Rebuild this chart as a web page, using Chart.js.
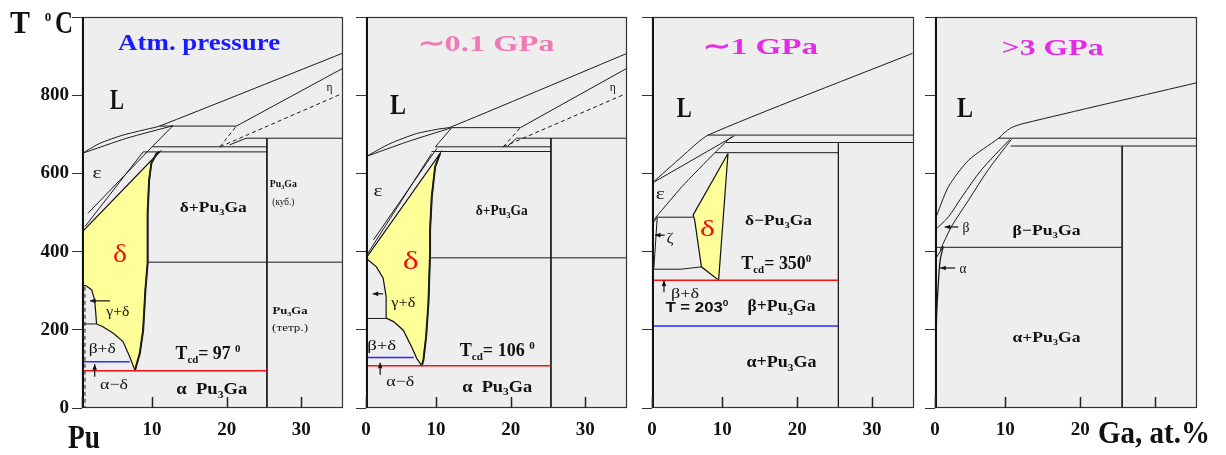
<!DOCTYPE html>
<html><head><meta charset="utf-8">
<script src="https://cdn.jsdelivr.net/npm/chart.js@4.4.0/dist/chart.umd.min.js"></script>
<style>
html,body{margin:0;padding:0;background:#fff;}
#wrap{position:relative;width:1226px;height:455px;overflow:hidden;background:#fff;}
canvas{position:absolute;left:0;top:0;}
</style></head><body><div id="wrap">
<canvas id="c1" width="1226" height="455"></canvas>
<canvas id="c2" width="1226" height="455"></canvas>
<canvas id="c3" width="1226" height="455"></canvas>
<canvas id="c4" width="1226" height="455"></canvas>
</div>
<script>
// ---------- axis values ----------
const xTickValues = [0, 10, 20, 30];          // Ga, at.%
const yTickValues = [0, 200, 400, 600, 800, 1000]; // T, °C
const compMin = 0.6, compMax = 35.6, tempMin = 0, tempMax = 1000;

// ---------- Panel 1: atmospheric pressure ----------
const p1Liquidus = [[0.6,651],[3.0,677],[6.1,698],[9.3,713],[11.0,721],[35.5,907]];
const p1Solidus = [[0.6,651],[6.6,690],[12.8,722]];
const p1Peritectic = [[11.0,721],[21.3,721]];
const p1EtaUpper = [[21.3,721],[35.5,868]];
const p1EtaDash = [[19.1,668],[35.1,801]];
const p1EtaDash2 = [[19.1,668],[21.3,721]];
const p1EtaSolid = [[20.4,673],[22.6,690],[35.6,690]];
const p1Pu3GaLine = [[25.4,690],[25.4,0]];
const p1Line668 = [[10.0,668],[25.4,668]];
const p1Line655 = [[8.8,655],[25.4,655]];
const p1EpsL = [[12.8,722],[10.0,668]];
const p1EpsA = [[1.0,464],[8.8,655]];
const p1EpsB = [[1.4,498],[10.0,668]];
const p1Delta = [[0.6,315],[0.6,450],[11.0,655],[10.6,651],[9.9,626],[9.6,583],[9.4,498],[9.4,370],[9.1,302],[8.8,199],[8.35,140],[7.7,96],[7.0,131],[6.1,170],[4.8,191],[3.4,208],[2.55,215],[2.45,242],[2.3,276],[1.9,302],[1.2,312],[0.6,315]];
const p1DeltaRight = [[11.0,655],[10.6,651],[9.9,626],[9.6,583],[9.4,498],[9.4,370],[9.1,302],[8.8,199],[8.35,140],[7.7,96]];
const p1Line373 = [[9.3,373],[35.6,373]];
const p1Line215 = [[0.6,215],[2.55,215]];
const p1Red = [[0.6,95],[25.4,95]];
const p1Blue = [[0.7,118],[7.0,118]];
const p1DashedV = [[1.0,310],[1.0,0]];

// ---------- Panel 2: ~0.1 GPa ----------
const p2Liquidus = [[0.6,643],[3.8,676],[7.4,702],[10.5,714],[11.9,718],[35.6,907]];
const p2Solidus = [[0.6,643],[6.0,680],[12.1,717]];
const p2Peritectic = [[12.1,717],[21.3,717]];
const p2EtaUpper = [[21.3,717],[35.6,869]];
const p2EtaDash = [[19.0,668],[35.1,801]];
const p2EtaDash2 = [[19.0,668],[21.3,717]];
const p2EtaSolid = [[19.5,668],[20.8,690],[35.6,690]];
const p2Pu3GaLine = [[25.4,690],[25.4,0]];
const p2Line668 = [[9.9,668],[25.4,668]];
const p2Line656 = [[9.4,656],[25.4,656]];
const p2EpsL = [[12.1,717],[9.9,668]];
const p2EpsA = [[0.7,391],[9.4,651]];
const p2EpsB = [[1.6,430],[10.1,664]];
const p2Delta = [[0.6,383],[10.54,651],[9.87,617],[9.42,540],[9.19,455],[9.19,396],[8.97,268],[8.66,182],[8.3,123],[8.08,108],[7.4,127],[6.7,157],[5.6,199],[4.3,221],[3.4,229],[3.3,285],[2.9,332],[2.0,361],[0.6,383]];
const p2DeltaRight = [[10.54,651],[9.87,617],[9.42,540],[9.19,455],[9.19,396],[8.97,268],[8.66,182],[8.3,123],[8.08,108]];
const p2Line384 = [[9.3,384],[35.6,384]];
const p2Line229 = [[0.6,229],[3.4,229]];
const p2Red = [[0.6,108],[25.4,108]];
const p2Blue = [[0.6,129],[7.0,129]];

// ---------- Panel 3: ~1 GPa ----------
const p3Liquidus = [[0.6,575],[4.6,643],[8.1,698],[35.4,907]];
const p3SolA = [[0.6,575],[11.6,696]];
const p3SolB = [[0.6,476],[4.6,566],[9.0,653],[11.2,694]];
const p3Line698 = [[8.1,698],[35.6,698]];
const p3Line679 = [[10.5,679],[35.6,679]];
const p3Line653 = [[9.0,653],[25.5,653]];
const p3Pu3GaLine = [[25.5,679],[25.5,0]];
const p3Delta = [[10.75,651],[9.5,327],[7.2,361],[6.3,481],[6.1,494],[10.75,651]];
const p3ZetaTop = [[0.6,470],[1.3,488],[6.1,488]];
const p3ZetaLeft = [[1.3,488],[0.85,357]];
const p3ZetaBottom = [[0.6,355],[4.5,355],[7.2,361]];
const p3Red = [[0.6,327],[25.5,327]];
const p3Blue = [[0.6,210],[25.5,210]];

// ---------- Panel 4: >3 GPa ----------
const p4Liquidus = [[0.6,481],[2.4,566],[5.1,634],[9.1,690],[9.8,703],[10.8,717],[12.5,728],[35.6,832]];
const p4CurveB = [[0.6,455],[2.4,489],[4.2,540],[6.8,609],[10.6,687]];
const p4CurveC = [[1.3,404],[2.8,464],[5.1,532],[7.7,609],[10.8,687]];
const p4Line690 = [[9.1,690],[35.6,690]];
const p4Line670 = [[10.7,670],[35.6,670]];
const p4Pu3GaLine = [[25.6,670],[25.6,0]];
const p4Line411 = [[0.6,411],[25.6,411]];
const p4Alpha = [[1.7,413],[1.3,379],[1.1,336],[0.8,225],[0.7,0]];
const p4Zig = [[0.6,379],[1.7,413]];

// ---------- labels (composition, temperature) ----------
const p1Labels = [
  {t:'Atm. pressure', x:16.3, y:936, s:23, c:'#1a1aff', w:162},
  {t:'L', x:5.3, y:790, s:30, w:14},
  {t:'ε', x:2.6, y:604, s:17, b:false, w:9},
  {t:'δ+Pu_3Ga', x:18.2, y:514, s:15, w:67},
  {t:'Pu_3Ga', x:27.6, y:575, s:11, w:27},
  {t:'(куб.)', x:27.6, y:529, s:10, b:false, w:22},
  {t:'δ', x:5.7, y:396, s:26, b:false, c:'#ee1111', w:14},
  {t:'γ+δ', x:5.4, y:248, s:15, b:false, w:23},
  {t:'β+δ', x:3.3, y:153, s:15, b:false, w:27},
  {t:'α−δ', x:4.9, y:61, s:15, b:false, w:28},
  {t:'T_{cd}= 97 ^0', x:17.5, y:141, s:18, w:65},
  {t:'α  Pu_3Ga', x:18.0, y:49, s:16, w:71},
  {t:'Pu_3Ga', x:28.5, y:251, s:11, w:35},
  {t:'(тетр.)', x:28.5, y:205, s:10, b:false, w:36},
  {t:'η', x:33.8, y:821, s:13, b:false, w:6}
];
const p1Arrows = [[4.35,274,1.67,274],[2.3,80,2.3,112]];
const p2Labels = [
  {t:'∼0.1 GPa', x:16.7, y:933, s:24, c:'#f07ab4', w:137},
  {t:'L', x:4.9, y:777, s:30, w:16},
  {t:'ε', x:2.2, y:558, s:17, b:false, w:9},
  {t:'δ+Pu_3Ga', x:18.8, y:506, s:14, w:52},
  {t:'δ', x:6.6, y:379, s:26, b:false, c:'#ee1111', w:16},
  {t:'γ+δ', x:5.6, y:271, s:15, b:false, w:24},
  {t:'β+δ', x:2.7, y:161, s:15, b:false, w:29},
  {t:'α−δ', x:5.2, y:69, s:15, b:false, w:28},
  {t:'T_{cd}= 106 ^0', x:18.2, y:148, s:18, w:75},
  {t:'α  Pu_3Ga', x:18.2, y:56, s:16, w:70},
  {t:'η', x:33.7, y:821, s:13, b:false, w:6}
];
const p2Arrows = [[2.9,292,1.5,292],[2.5,85,2.5,116]];
const p3Labels = [
  {t:'∼1 GPa', x:15.1, y:926, s:24, c:'#e62ae6', w:115},
  {t:'L', x:4.9, y:770, s:30, w:15},
  {t:'ε', x:1.7, y:550, s:17, b:false, w:9},
  {t:'δ−Pu_3Ga', x:17.5, y:481, s:15, w:67},
  {t:'δ', x:8.0, y:462, s:24, b:false, c:'#ee1111', w:15},
  {t:'ζ', x:3.0, y:435, s:14, b:false, w:7},
  {t:'β+δ', x:5.0, y:294, s:15, b:false, w:28},
  {t:'T = 203^0', x:6.6, y:258, s:15, f:'"Liberation Sans", Arial, sans-serif', w:63},
  {t:'T_{cd}= 350^0', x:17.2, y:371, s:18, w:70},
  {t:'β+Pu_3Ga', x:17.9, y:261, s:16, w:68},
  {t:'α+Pu_3Ga', x:17.9, y:118, s:16, w:70}
];
const p3Arrows = [[2.3,442,1.0,442],[2.2,296,2.2,326]];
const p4Labels = [
  {t:'>3 GPa', x:16.3, y:923, s:24, c:'#e62ae6', w:102},
  {t:'L', x:4.6, y:770, s:30, w:16},
  {t:'β', x:4.75, y:463, s:14, b:false, w:7},
  {t:'β−Pu_3Ga', x:15.5, y:455, s:15, w:68},
  {t:'α', x:4.35, y:358, s:14, b:false, w:7},
  {t:'α+Pu_3Ga', x:15.5, y:182, s:15, w:68}
];
const p4Arrows = [[3.7,463,1.9,463],[3.3,358,1.3,358]];

// ---------- tick labels per panel ----------
const xLabelsP = [['','10','20','30'],['0','10','20','30'],['0','10','20','30'],['0','10','20','']];

// ---------- layout / style (not data) ----------
const panelLeft = [82,366,652,935], panelRight = [343,627,914,1197];
const plotTop = 17, plotBottom = 408, W = 1226, H = 455;
const YAXW = 60, XAXH = 40;
const LINE = '#1c1c1c', YELLOW = '#ffff99', PLOTBG = '#eeeeee';
const SERIF = '"Liberation Serif", "Times New Roman", serif';

function seg(pts, o = {}) {
  return { data: pts.map(p => ({x:p[0], y:p[1]})), borderColor: o.color || LINE,
    borderWidth: o.width || 1, borderDash: o.dash || [], pointRadius: 0, fill: false,
    tension: o.tension || 0, order: 0 };
}
function area(pts) {
  return { data: pts.map(p => ({x:p[0], y:p[1]})), borderColor: '#111', borderWidth: 1.2,
    backgroundColor: YELLOW, fill: 'shape', pointRadius: 0, tension: 0, order: 10 };
}

function parseRich(str) {
  const segs = []; let i = 0;
  while (i < str.length) {
    const ch = str[i];
    if (ch === '_' || ch === '^') {
      let t;
      if (str[i+1] === '{') { const j = str.indexOf('}', i); t = str.slice(i+2, j); i = j + 1; }
      else { t = str[i+1]; i += 2; }
      segs.push({t, mode: ch});
    } else {
      let j = i; while (j < str.length && str[j] !== '_' && str[j] !== '^') j++;
      segs.push({t: str.slice(i, j), mode: ''}); i = j;
    }
  }
  return segs;
}
function drawRich(ctx, str, cx, cy, o) {
  const segs = parseRich(str);
  const fam = o.f || SERIF; const wt = o.b === false ? 'normal' : 'bold';
  const fontFor = m => `${wt} ${m ? Math.round(o.s * 0.62) : o.s}px ${fam}`;
  let tot = 0;
  segs.forEach(s => { ctx.font = fontFor(s.mode); s.w = ctx.measureText(s.t).width; tot += s.w; });
  const sx = o.w ? o.w / tot : 1;
  ctx.save(); ctx.translate(cx, cy); ctx.scale(sx, 1);
  ctx.fillStyle = o.c || '#111'; ctx.textBaseline = 'alphabetic'; ctx.textAlign = 'left';
  let x = -tot / 2; const base = o.s * 0.34;
  segs.forEach(s => {
    ctx.font = fontFor(s.mode);
    const dy = s.mode === '_' ? o.s * 0.22 : s.mode === '^' ? -o.s * 0.4 : 0;
    ctx.fillText(s.t, x, base + dy); x += s.w;
  });
  ctx.restore();
}
function arrow(ctx, x1, y1, x2, y2) {
  ctx.save(); ctx.strokeStyle = '#111'; ctx.fillStyle = '#111'; ctx.lineWidth = 1.2;
  ctx.beginPath(); ctx.moveTo(x1, y1); ctx.lineTo(x2, y2); ctx.stroke();
  const a = Math.atan2(y2 - y1, x2 - x1), L = 6;
  ctx.beginPath(); ctx.moveTo(x2, y2);
  ctx.lineTo(x2 - L*Math.cos(a - 0.4), y2 - L*Math.sin(a - 0.4));
  ctx.lineTo(x2 - L*Math.cos(a + 0.4), y2 - L*Math.sin(a + 0.4));
  ctx.closePath(); ctx.fill(); ctx.restore();
}

const extras = {};
const deco = {
  id: 'deco',
  beforeDraw(chart) {
    const {ctx, chartArea: a} = chart;
    ctx.save(); ctx.fillStyle = PLOTBG; ctx.fillRect(a.left, a.top, a.right - a.left, a.bottom - a.top); ctx.restore();
  },
  afterDraw(chart) {
    const {ctx, chartArea: a, scales} = chart; const e = extras[chart.canvas.id];
    ctx.save();
    ctx.strokeStyle = '#333'; ctx.lineWidth = 1.2;
    ctx.strokeRect(a.left + 0.5, a.top + 0.5, a.right - a.left - 1, a.bottom - a.top - 1);
    ctx.strokeStyle = '#111'; ctx.lineWidth = 2;
    ctx.beginPath(); ctx.moveTo(a.left + 1, a.top); ctx.lineTo(a.left + 1, a.bottom); ctx.stroke();
    ctx.lineWidth = 1.5; ctx.strokeStyle = '#222';
    xTickValues.forEach(v => {
      const px = Math.round(scales.x.getPixelForValue(Math.max(v, scales.x.min))) + 0.5;
      ctx.beginPath(); ctx.moveTo(px, a.bottom); ctx.lineTo(px, a.bottom - 11); ctx.stroke();
    });
    ctx.restore();
    e.labels.forEach(l => drawRich(ctx, l.t, scales.x.getPixelForValue(l.x), scales.y.getPixelForValue(l.y), l));
    e.arrows.forEach(r => arrow(ctx, scales.x.getPixelForValue(r[0]), scales.y.getPixelForValue(r[1]),
      scales.x.getPixelForValue(r[2]), scales.y.getPixelForValue(r[3])));
    if (e.axisTitles) e.axisTitles(ctx);
  }
};

function makeChart(id, idx, datasets, labels, arrows, axisTitles) {
  extras[id] = {labels, arrows, axisTitles};
  return new Chart(document.getElementById(id), {
    type: 'line',
    data: { datasets },
    options: {
      responsive: false, animation: false, devicePixelRatio: 1,
      layout: { padding: { left: panelLeft[idx] - YAXW, right: W - panelRight[idx], top: plotTop, bottom: H - plotBottom - XAXH } },
      plugins: { legend: { display: false }, tooltip: { enabled: false } },
      elements: { point: { radius: 0 } },
      scales: {
        x: {
          type: 'linear', min: compMin, max: compMax,
          afterFit: s => { s.height = XAXH; },
          afterBuildTicks: s => { s.ticks = xTickValues.map(v => ({ value: Math.max(v, s.min) })); },
          grid: { display: false, drawTicks: false }, border: { display: false },
          ticks: { autoSkip: false, maxRotation: 0, minRotation: 0, padding: 11, color: '#111',
            font: { family: SERIF, size: 19, weight: 'bold' },
            callback: (v, i) => xLabelsP[idx][i] }
        },
        y: {
          type: 'linear', min: tempMin, max: tempMax,
          afterFit: s => { s.width = YAXW; },
          afterBuildTicks: s => { s.ticks = yTickValues.map(v => ({ value: v })); },
          grid: { display: true, drawOnChartArea: false, drawTicks: true, tickLength: 10, color: '#333', lineWidth: 1 },
          border: { display: false },
          ticks: { padding: 3, color: '#111', font: { family: SERIF, size: 19, weight: 'bold' },
            callback: v => (idx === 0 && v < tempMax) ? String(v) : '' }
        }
      }
    },
    plugins: [deco]
  });
}

const RED = '#ff1010', BLUE = '#2a2aff';

makeChart('c1', 0, [
  seg(p1Red, {color: RED, width: 1.5}), seg(p1Blue, {color: BLUE, width: 1.5}),
  seg(p1Liquidus, {tension: 0.2}), seg(p1Solidus, {tension: 0.2}), seg(p1Peritectic), seg(p1EtaUpper),
  seg(p1EtaDash, {dash: [4,3]}), seg(p1EtaDash2, {dash: [4,3]}), seg(p1EtaSolid),
  seg(p1Pu3GaLine), seg(p1Line668), seg(p1Line655), seg(p1EpsL), seg(p1EpsA), seg(p1EpsB),
  seg(p1DeltaRight, {width: 2}), seg(p1Line373), seg(p1Line215), seg(p1DashedV, {dash: [4,3]}),
  area(p1Delta)
], p1Labels, p1Arrows, ctx => {
  drawRich(ctx, 'T', 20, 22, {s: 32, w: 20});
  drawRich(ctx, '0', 48, 17, {s: 13});
  drawRich(ctx, 'C', 64, 22, {s: 32, w: 18});
  drawRich(ctx, 'Pu', 84, 436, {s: 34, w: 32});
});

makeChart('c2', 1, [
  seg(p2Red, {color: RED, width: 1.5}), seg(p2Blue, {color: BLUE, width: 1.5}),
  seg(p2Liquidus, {tension: 0.2}), seg(p2Solidus, {tension: 0.2}), seg(p2Peritectic), seg(p2EtaUpper),
  seg(p2EtaDash, {dash: [4,3]}), seg(p2EtaDash2, {dash: [4,3]}), seg(p2EtaSolid),
  seg(p2Pu3GaLine), seg(p2Line668), seg(p2Line656), seg(p2EpsL), seg(p2EpsA), seg(p2EpsB),
  seg(p2DeltaRight, {width: 2}), seg(p2Line384), seg(p2Line229),
  area(p2Delta)
], p2Labels, p2Arrows, null);

makeChart('c3', 2, [
  seg(p3Red, {color: RED, width: 1.5}), seg(p3Blue, {color: BLUE, width: 1.5}),
  seg(p3Liquidus, {tension: 0.2}), seg(p3SolA), seg(p3SolB, {tension: 0.2}),
  seg(p3Line698), seg(p3Line679), seg(p3Line653), seg(p3Pu3GaLine),
  seg(p3ZetaTop), seg(p3ZetaLeft), seg(p3ZetaBottom),
  area(p3Delta)
], p3Labels, p3Arrows, null);

makeChart('c4', 3, [
  seg(p4Liquidus, {tension: 0.25}), seg(p4CurveB, {tension: 0.3}), seg(p4CurveC, {tension: 0.3}),
  seg(p4Line690), seg(p4Line670), seg(p4Pu3GaLine), seg(p4Line411),
  seg(p4Alpha, {tension: 0.3, width: 1.3}), seg(p4Zig)
], p4Labels, p4Arrows, ctx => {
  drawRich(ctx, 'Ga, at.%', 1154, 432, {s: 32, w: 112});
});
</script>
</body></html>
